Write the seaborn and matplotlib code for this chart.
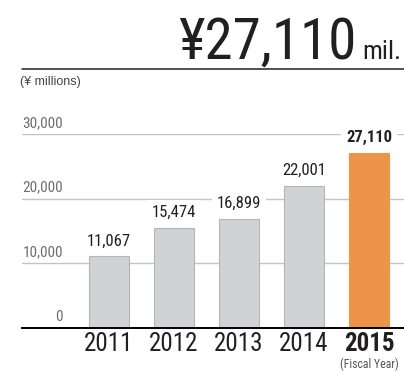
import os
import matplotlib
matplotlib.use("Agg")
import matplotlib.pyplot as plt
from matplotlib import font_manager as fm
from matplotlib.lines import Line2D
import seaborn as sns

# Net sales by fiscal year (¥ millions)
years = ["2011", "2012", "2013", "2014", "2015"]
sales = [11067, 15474, 16899, 22001, 27110]
yticks = [0, 10000, 20000, 30000]
headline = "¥27,110"
headline_unit = "mil."
unit_label = "(¥ millions)"
fy_label = "(Fiscal Year)"

GRAY_BAR = "#d1d2d4"
GRAY_EDGE = "#b5b6b8"
ORANGE = "#ec9448"
DARK = "#231f20"


def find_narrow():
    """Return (regular, bold) font files of a condensed sans face, if any."""
    found = {}
    for f in fm.fontManager.ttflist:
        key = (f.name + " " + os.path.basename(f.fname)).lower()
        if "italic" in key or "oblique" in key:
            continue
        if not any(k in key for k in ("condensed", "narrow")):
            continue
        if "light" in key or "thin" in key or "black" in key:
            continue
        fam = f.name
        slot = found.setdefault(fam, {})
        if f.weight in ("bold", 700) or "bold" in key:
            slot.setdefault("bold", f.fname)
        else:
            slot.setdefault("regular", f.fname)
    order = ["Liberation Sans Narrow", "Roboto Condensed", "DejaVu Sans Condensed",
             "DejaVu Sans", "Open Sans Condensed", "Noto Sans"]
    fams = sorted(found, key=lambda n: order.index(n) if n in order else 99)
    for fam in fams:
        if "regular" in found[fam]:
            reg = found[fam]["regular"]
            return reg, found[fam].get("bold", reg)
    return None, None


sns.set_theme(style="white")
reg_file, bold_file = find_narrow()
if reg_file:
    REG = lambda size: fm.FontProperties(fname=reg_file, size=size)
    BOLD = lambda size: fm.FontProperties(fname=bold_file, size=size)
else:
    REG = lambda size: fm.FontProperties(family="Roboto", size=size)
    BOLD = lambda size: fm.FontProperties(family="Roboto", weight="bold", size=size)

W, H = 404, 371
fig = plt.figure(figsize=(W / 100, H / 100), dpi=100)

# axes: left edge 22px, baseline at y=328px, 30,000 at y=134px
ax = fig.add_axes([22 / W, 1 - 328 / H, (W - 22) / W, 194 / H])

palette = [GRAY_BAR] * (len(years) - 1) + [ORANGE]
sns.barplot(x=years, y=sales, hue=years, palette=palette, legend=False,
            width=40 / 65, saturation=1, ax=ax, zorder=3)
for i, p in enumerate(ax.patches):
    p.set_edgecolor(GRAY_EDGE if i < len(years) - 1 else ORANGE)
    p.set_linewidth(0.8)

ax.set_xlim(-87 / 65, (W - 109) / 65)
ax.set_ylim(0, 30000)
ax.set_yticks(yticks)
ax.set_yticklabels([])
ax.tick_params(axis="y", length=0)
ax.grid(axis="y", color="#c4c4c4", linewidth=1.0, zorder=0)
ax.set_axisbelow(True)
for s in ["left", "right", "top"]:
    ax.spines[s].set_visible(False)
ax.spines["bottom"].set_color("black")
ax.spines["bottom"].set_linewidth(1.4)
ax.spines["bottom"].set_zorder(5)

# y tick labels sit above their gridlines, right-aligned
for v in yticks:
    ax.annotate(f"{v:,}", xy=(41 / (W - 22), v), xycoords=ax.get_yaxis_transform(),
                xytext=(0, 3), textcoords="offset points", ha="right", va="bottom",
                fontproperties=REG(11), color="#6d6e70", annotation_clip=False)

# x tick labels
ax.set_xticks(range(len(years)))
ax.set_xticklabels(years, color=DARK)
for i, t in enumerate(ax.get_xticklabels()):
    t.set_fontproperties(BOLD(18) if i == len(years) - 1 else REG(18))
ax.tick_params(axis="x", length=0, pad=3)
ax.set_xlabel("")

# value labels with white backing so gridlines break around them
for i, v in enumerate(sales):
    last = i == len(sales) - 1
    ax.annotate(f"{v:,}", xy=(i, v), xytext=(0, 5.5), textcoords="offset points",
                ha="center", va="bottom", color=DARK,
                fontproperties=BOLD(12) if last else REG(12), zorder=4,
                bbox=dict(boxstyle="square,pad=0.3", fc="white", ec="none"),
                annotation_clip=False)

# headline figure and rule
fig.text(356 / W, 1 - 59 / H, headline, ha="right", va="baseline",
         fontproperties=REG(41), color=DARK)
fig.text(362 / W, 1 - 59 / H, headline_unit, ha="left", va="baseline",
         fontproperties=REG(19), color=DARK)
fig.add_artist(Line2D([22 / W, 1.0], [1 - 69 / H, 1 - 69 / H],
                      color="#231f20", linewidth=1.1))
fig.text(20 / W, 1 - 82 / H, unit_label, ha="left", va="center",
         fontsize=9, color="#444444", family=["Liberation Sans", "DejaVu Sans"])

ax.annotate(fy_label, xy=(len(years) - 1, 0), xytext=(0, -21),
            textcoords="offset points", ha="center", va="top",
            fontproperties=REG(8.5), color="#555555", annotation_clip=False)

fig.savefig("out.png", dpi=100)
